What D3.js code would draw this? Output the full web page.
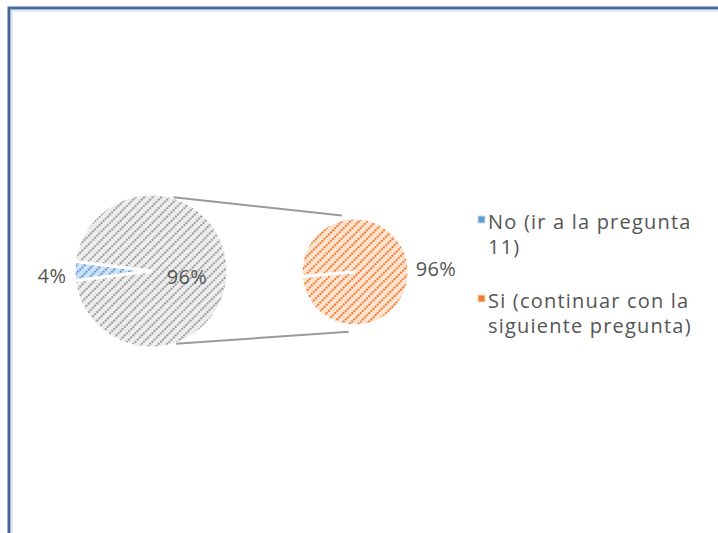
<!DOCTYPE html>
<html>
<head>
<meta charset="utf-8">
<script src="https://cdn.jsdelivr.net/npm/d3@7"></script>
<style>
    body { margin: 0; background: #fff; }
    text { font-family: "Open Sans", Lato, sans-serif; fill: #555; }
</style>
</head>
<body>
<div id="chart"></div>
<script>
// data
const primaryLabels = ['No (ir a la pregunta 11)', 'Otro'];
const primaryValues = [4, 96];
const secondaryLabels = ['Si (continuar con la siguiente pregunta)'];
const secondaryValues = [96];
const legendLines = [['No (ir a la pregunta', '11)'], ['Si (continuar con la', 'siguiente pregunta)']];

const width = 718, height = 533;

const svg = d3.select('#chart').append('svg')
    .attr('width', width)
    .attr('height', height);

// frame
svg.append('rect')
    .attr('x', 9).attr('y', 8)
    .attr('width', width + 20).attr('height', height + 20)
    .attr('fill', '#fff')
    .attr('stroke', '#46699b')
    .attr('stroke-width', 3);
svg.append('rect')
    .attr('x', 12).attr('y', 11)
    .attr('width', width + 20).attr('height', height + 20)
    .attr('fill', 'none')
    .attr('stroke', '#cfdcec')
    .attr('stroke-width', 1.2);

// hatched fills
const defs = svg.append('defs');
function hatch(id, bg, fg) {
    const p = defs.append('pattern')
        .attr('id', id)
        .attr('patternUnits', 'userSpaceOnUse')
        .attr('width', 6).attr('height', 6)
        .attr('patternTransform', 'rotate(45)');
    p.append('rect').attr('width', 6).attr('height', 6).attr('fill', bg);
    p.append('line')
        .attr('x1', 3).attr('y1', 0).attr('x2', 3).attr('y2', 6)
        .attr('stroke', fg)
        .attr('stroke-width', 2)
        .attr('stroke-dasharray', '2 1');
}
hatch('h-blue', '#cfe2f5', '#5b9bd5');
hatch('h-gray', '#ededed', '#9c9c9c');
hatch('h-orange', '#fde3d0', '#ed7d31');

const primaryFill = ['url(#h-blue)', 'url(#h-gray)'];

// primary pie
const p1 = { cx: 151, cy: 271, r: 77 };
const half = Math.PI * primaryValues[0] / (primaryValues[0] + primaryValues[1]);
const a0 = 1.5 * Math.PI - half;
const pie1 = d3.pie().sort(null).startAngle(a0).endAngle(a0 + 2 * Math.PI);
const arc1 = d3.arc().innerRadius(0).outerRadius(p1.r);
const g1 = svg.append('g').attr('transform', `translate(${p1.cx},${p1.cy})`);
const arcs1 = pie1(primaryValues);

g1.selectAll('path')
    .data(arcs1)
    .join('path')
    .attr('d', arc1)
    .attr('fill', (d, i) => primaryFill[i])
    .attr('stroke', '#fff')
    .attr('stroke-width', 3)
    .attr('stroke-linejoin', 'round');

// primary labels: 4% outside, 96% inside
const fmt = v => Math.round(v) + '%';
g1.append('text')
    .attr('x', -p1.r - 22).attr('y', 12)
    .attr('text-anchor', 'middle')
    .attr('font-size', 20)
    .attr('letter-spacing', 0.4)
    .text(fmt(primaryValues[0]));
g1.append('text')
    .attr('x', 36).attr('y', 13)
    .attr('text-anchor', 'middle')
    .attr('font-size', 20)
    .attr('letter-spacing', 0.4)
    .text(fmt(primaryValues[1]));

// secondary pie
const p2 = { cx: 355, cy: 272, r: 54 };
const b0 = 1.5 * Math.PI - 0.08;
const pie2 = d3.pie().sort(null).startAngle(b0).endAngle(b0 + 2 * Math.PI - 0.01);
const arc2 = d3.arc().innerRadius(0).outerRadius(p2.r);
const g2 = svg.append('g').attr('transform', `translate(${p2.cx},${p2.cy})`);

g2.selectAll('path')
    .data(pie2(secondaryValues))
    .join('path')
    .attr('d', arc2)
    .attr('fill', 'url(#h-orange)')
    .attr('stroke', '#fff')
    .attr('stroke-width', 3);

g2.append('text')
    .attr('x', p2.r + 27).attr('y', 4)
    .attr('text-anchor', 'middle')
    .attr('font-size', 20)
    .attr('letter-spacing', 0.4)
    .text(fmt(secondaryValues[0]));

// connector lines
const pt = (c, r, deg) => [c.cx + r * Math.cos(deg * Math.PI / 180), c.cy + r * Math.sin(deg * Math.PI / 180)];
const connectors = [
    [pt(p1, 77, -73), pt(p2, 58, -103)],
    [pt(p1, 77, 71), pt(p2, 60, 96)],
];
svg.selectAll('.connector')
    .data(connectors)
    .join('line')
    .attr('class', 'connector')
    .attr('x1', d => d[0][0]).attr('y1', d => d[0][1])
    .attr('x2', d => d[1][0]).attr('y2', d => d[1][1])
    .attr('stroke', '#9a9a9a')
    .attr('stroke-width', 2);

// legend
const legend = svg.append('g').attr('transform', 'translate(478, 0)');
const legendY = [229, 308];
const legendColors = [['#c9def2', '#5b9bd5'], ['#fcdcc4', '#ed7d31']];
const items = legend.selectAll('.item')
    .data(legendLines)
    .join('g')
    .attr('class', 'item')
    .attr('transform', (d, i) => `translate(0, ${legendY[i]})`);
items.append('rect')
    .attr('x', 0).attr('y', -13)
    .attr('width', 7).attr('height', 7)
    .attr('fill', (d, i) => legendColors[i][1])
    .attr('stroke', (d, i) => legendColors[i][0])
    .attr('stroke-width', 1);
items.append('text')
    .attr('x', 11)
    .attr('font-size', 20)
    .attr('letter-spacing', 1.2)
    .selectAll('tspan')
    .data(d => d)
    .join('tspan')
    .attr('x', 10)
    .attr('dy', (d, i) => i === 0 ? 0 : 25)
    .text(d => d);
</script>
</body>
</html>
